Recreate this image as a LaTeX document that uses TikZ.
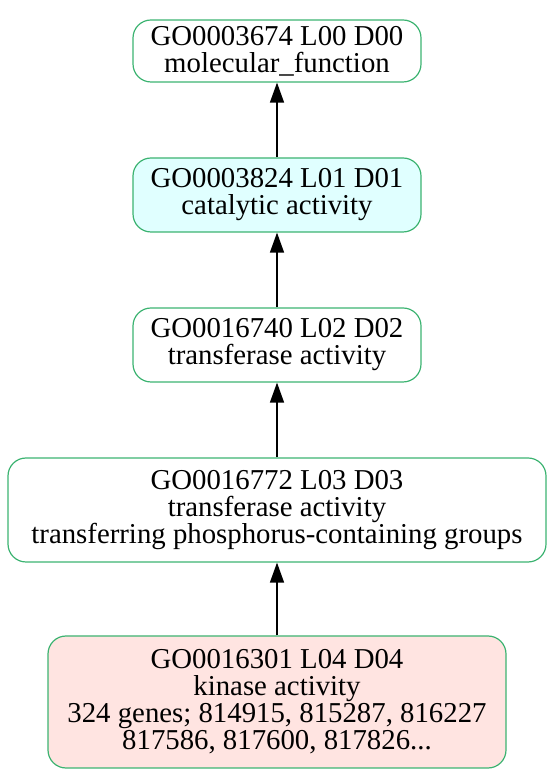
\documentclass[tikz,border=0pt]{standalone}
\usepackage{fontspec}
\setmainfont{Liberation Serif}
\usetikzlibrary{arrows.meta}
\definecolor{gocyan}{HTML}{E0FFFF}
\definecolor{gopink}{HTML}{FFE4E1}
\definecolor{goedge}{HTML}{3CB371}
\tikzset{
  gonode/.style={draw=goedge, line width=1.2pt, rounded corners=18pt, align=center,
    inner sep=0pt, font=\fontsize{28.8}{27}\selectfont},
  goarrow/.style={line width=1.4pt, -{Triangle[length=20pt,width=14pt]}}
}
\begin{document}
\begin{tikzpicture}[x=1pt,y=1pt]
\useasboundingbox (0,0) rectangle (555,779);
\node[gonode, minimum width=288pt, minimum height=62pt] (n1) at (277,728) {GO0003674 L00 D00\\molecular\_function};
\node[gonode, fill=gocyan, minimum width=288pt, minimum height=74pt] (n2) at (277,584) {GO0003824 L01 D01\\catalytic activity};
\node[gonode, minimum width=288pt, minimum height=74pt] (n3) at (277,434) {GO0016740 L02 D02\\transferase activity};
\node[gonode, minimum width=538pt, minimum height=104pt] (n4) at (277,269) {GO0016772 L03 D03\\transferase activity\\transferring phosphorus-containing groups};
\node[gonode, fill=gopink, minimum width=458pt, minimum height=132pt] (n5) at (277,77) {GO0016301 L04 D04\\kinase activity\\324 genes; 814915, 815287, 816227\\817586, 817600, 817826...};
\draw[goarrow] (n2) -- (n1);
\draw[goarrow] (n3) -- (n2);
\draw[goarrow] (n4) -- (n3);
\draw[goarrow] (n5) -- (n4);
\end{tikzpicture}
\end{document}
